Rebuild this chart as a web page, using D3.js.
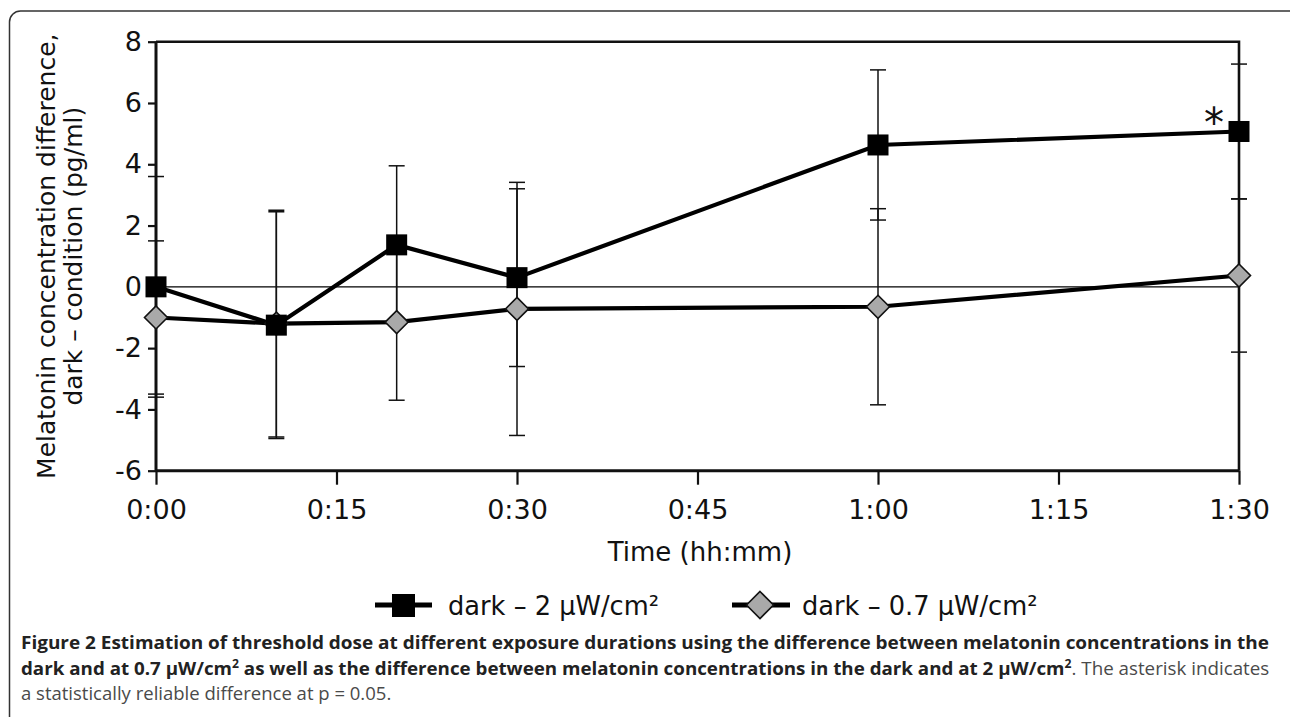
<!DOCTYPE html>
<html>
<head>
<meta charset="utf-8">
<script src="https://cdn.jsdelivr.net/npm/d3@7"></script>
<style>
  body { margin: 0; background: #fff; }
  svg { display: block; }
  .chart text { font-family: "DejaVu Sans", Verdana, sans-serif; fill: #111; }
  .cap { font-family: "Open Sans", sans-serif; font-size: 18.5px; }
</style>
</head>
<body>
<div id="container"></div>
<script>
// time in minutes after start
const times = [0, 10, 20, 30, 60, 90];
const timeTicks = [0, 15, 30, 45, 60, 75, 90];
const timeLabels = ["0:00", "0:15", "0:30", "0:45", "1:00", "1:15", "1:30"];
const yTicks = [-6, -4, -2, 0, 2, 4, 6, 8];

// dark - 2 µW/cm²
const dark2 = [0, -1.25, 1.37, 0.3, 4.63, 5.07];
const dark2Err = [3.6, 3.7, 2.58, 2.9, 2.45, 2.2];
// dark - 0.7 µW/cm²
const dark07 = [-1.0, -1.2, -1.15, -0.72, -0.65, 0.37];
const dark07Err = [2.5, 3.7, 2.55, 4.13, 3.2, 2.5];

const width = 1290, height = 717;
const svg = d3.select("#container").append("svg")
    .attr("width", width).attr("height", height);

// outer rounded border of the figure
svg.append("rect")
    .attr("x", 9.5).attr("y", 11).attr("width", 1290).attr("height", 800)
    .attr("rx", 11)
    .attr("fill", "none").attr("stroke", "#333").attr("stroke-width", 1.5);

const chart = svg.append("g").attr("class", "chart");

const x = d3.scaleLinear().domain([0, 90]).range([156, 1239]);
const y = d3.scaleLinear().domain([-6, 8]).range([470.7, 41.7]);

// zero line
chart.append("line")
    .attr("x1", x(0)).attr("x2", x(90))
    .attr("y1", y(0)).attr("y2", y(0))
    .attr("stroke", "#000").attr("stroke-width", 1.3);

// frame top + right
chart.append("path")
    .attr("d", `M${x(0)},${y(8)}H${x(90)}V${y(-6)}`)
    .attr("fill", "none").attr("stroke", "#111").attr("stroke-width", 2.6);

const xAxis = chart.append("g")
    .attr("transform", `translate(0,${y(-6)})`)
    .call(d3.axisBottom(x).tickValues(timeTicks)
        .tickFormat((d, i) => timeLabels[i])
        .tickSize(14).tickPadding(15));

const yAxis = chart.append("g")
    .attr("transform", `translate(${x(0)},0)`)
    .call(d3.axisLeft(y).tickValues(yTicks).tickSize(8).tickPadding(6)
        .tickFormat(d => String(d)));

[xAxis, yAxis].forEach(a => {
    a.select(".domain").attr("stroke", "#111").attr("stroke-width", 3);
    a.selectAll(".tick line").attr("stroke", "#111").attr("stroke-width", 2.2);
    a.selectAll(".tick text").style("font-size", "27px").attr("fill", "#111");
});
yAxis.select(".domain").attr("d", `M0,${y(-6)}V${y(8)}`);
xAxis.select(".domain").attr("d", `M${x(0)},0H${x(90)}`);

chart.append("text")
    .attr("x", 700).attr("y", 561)
    .attr("text-anchor", "middle")
    .style("font-size", "26px")
    .text("Time (hh:mm)");

const yl = chart.append("text")
    .attr("transform", `translate(55,${(y(8) + y(-6)) / 2}) rotate(-90)`)
    .attr("text-anchor", "middle")
    .style("font-size", "25px");
yl.append("tspan").attr("x", 0).attr("y", 0).text("Melatonin concentration difference,");
yl.append("tspan").attr("x", 0).attr("y", 27).text("dark \u2013 condition (pg/ml)");

// error bars
function errorBars(vals, errs) {
    const g = chart.append("g");
    const capW = 8;
    vals.forEach((v, i) => {
        const cx = x(times[i]);
        g.append("line").attr("x1", cx).attr("x2", cx)
            .attr("y1", y(v - errs[i])).attr("y2", y(v + errs[i]));
        [v - errs[i], v + errs[i]].forEach(e => {
            g.append("line").attr("x1", cx - capW).attr("x2", cx + capW)
                .attr("y1", y(e)).attr("y2", y(e));
        });
    });
    g.selectAll("line").attr("stroke", "#111").attr("stroke-width", 1.5);
}
errorBars(dark07, dark07Err);
errorBars(dark2, dark2Err);

const line = d3.line().x((d, i) => x(times[i])).y(d => y(d));

chart.append("path").datum(dark07).attr("d", line)
    .attr("fill", "none").attr("stroke", "#000").attr("stroke-width", 4.2);
chart.append("path").datum(dark2).attr("d", line)
    .attr("fill", "none").attr("stroke", "#000").attr("stroke-width", 4.2);

const diamond = s => `M0,${-s}L${s},0L0,${s}L${-s},0Z`;

chart.append("g").selectAll("path").data(dark07).join("path")
    .attr("transform", (d, i) => `translate(${x(times[i])},${y(d)})`)
    .attr("d", diamond(11.5))
    .attr("fill", "#a9a9a9").attr("stroke", "#111").attr("stroke-width", 1.6);

chart.append("g").selectAll("rect").data(dark2).join("rect")
    .attr("x", (d, i) => x(times[i]) - 10.5)
    .attr("y", d => y(d) - 10.5)
    .attr("width", 21).attr("height", 21)
    .attr("fill", "#000");

// significance mark
chart.append("text")
    .attr("x", x(90) - 25).attr("y", y(dark2[5]) + 6)
    .attr("text-anchor", "middle")
    .style("font-size", "40px")
    .text("*");

// legend
const legend = chart.append("g");
legend.append("line").attr("x1", 375).attr("x2", 432).attr("y1", 605).attr("y2", 605)
    .attr("stroke", "#000").attr("stroke-width", 5);
legend.append("rect").attr("x", 392).attr("y", 594).attr("width", 23).attr("height", 23)
    .attr("fill", "#000");
legend.append("text").attr("x", 448).attr("y", 615).style("font-size", "25.7px")
    .text("dark \u2013 2 \u00b5W/cm\u00b2");

legend.append("line").attr("x1", 732).attr("x2", 790).attr("y1", 605).attr("y2", 605)
    .attr("stroke", "#000").attr("stroke-width", 5);
legend.append("path").attr("transform", "translate(760,605)").attr("d", diamond(13.5))
    .attr("fill", "#a9a9a9").attr("stroke", "#111").attr("stroke-width", 1.6);
legend.append("text").attr("x", 802).attr("y", 615).style("font-size", "25.7px")
    .text("dark \u2013 0.7 \u00b5W/cm\u00b2");

// caption
const capLeft = 21, capRight = 1270;
const capLines = [
    [["b", "Figure 2 Estimation of threshold dose at different exposure durations using the difference between melatonin concentrations in the"]],
    [["b", "dark and at 0.7 \u00b5W/cm"], ["bs", "2"], ["b", " as well as the difference between melatonin concentrations in the dark and at 2 \u00b5W/cm"], ["bs", "2"], ["r", ". The asterisk indicates"]],
    [["r", "a statistically reliable difference at p = 0.05."]]
];
const capBase = [649, 674.5, 700];

capLines.forEach((parts, li) => {
    const t = svg.append("text").attr("class", "cap")
        .attr("transform", `translate(${capLeft},${capBase[li]})`);
    let raised = false;
    parts.forEach(([kind, str]) => {
        const s = t.append("tspan").text(str)
            .attr("font-weight", kind === "r" ? 400 : 700)
            .attr("fill", kind === "r" ? "#4a4a4a" : "#222");
        if (kind === "bs") { s.attr("dy", -7).style("font-size", "12px"); raised = true; }
        else if (raised) { s.attr("dy", 7); raised = false; }
    });
    if (li < 2) {
        // full lines are fitted to the column width
        const natural = t.node().getComputedTextLength();
        const sx = (capRight - capLeft) / natural;
        t.attr("transform", `translate(${capLeft},${capBase[li]}) scale(${sx},1)`);
    }
});
</script>
</body>
</html>
